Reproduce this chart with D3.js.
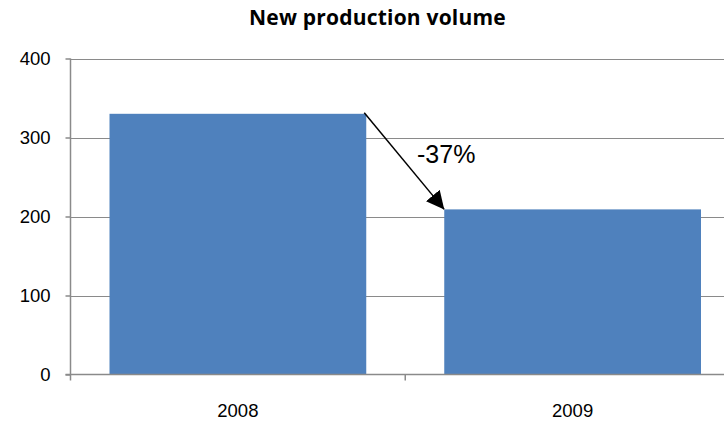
<!DOCTYPE html>
<html>
<head>
<meta charset="utf-8">
<script src="https://cdn.jsdelivr.net/npm/d3@7/dist/d3.min.js"></script>
<style>
  html, body { margin: 0; padding: 0; background: #fff; }
  svg { display: block; }
</style>
</head>
<body>
<svg id="chart" width="724" height="422"></svg>
<script>
// Chart data
const categories = ["2008", "2009"];
const values = [330, 209];
const yTicks = [0, 100, 200, 300, 400];
const changeLabel = "-37%";
const title = "New production volume";

const svg = d3.select("#chart");
const margin = { left: 70.5, right: -16, top: 58.5, bottom: 47.5 };
const W = 724, H = 422;

const x = d3.scaleBand()
  .domain(categories)
  .range([margin.left, W - margin.right])
  .paddingInner(0.233)
  .paddingOuter(0.1165);

const y = d3.scaleLinear()
  .domain([0, 400])
  .range([H - margin.bottom, margin.top]);

const gridColor = "#8a8a8a";
const font = "'Liberation Sans', Arial, sans-serif";

// Horizontal gridlines
svg.append("g")
  .selectAll("line")
  .data(yTicks.filter(d => d > 0))
  .join("line")
  .attr("x1", margin.left)
  .attr("x2", W)
  .attr("y1", d => Math.round(y(d)) + 0.5)
  .attr("y2", d => Math.round(y(d)) + 0.5)
  .attr("stroke", gridColor)
  .attr("stroke-width", 1);

// Bars
svg.append("g")
  .selectAll("rect")
  .data(categories.map((c, i) => ({ c, v: values[i] })))
  .join("rect")
  .attr("x", d => x(d.c))
  .attr("width", x.bandwidth())
  .attr("y", d => y(d.v))
  .attr("height", d => y(0) - y(d.v))
  .attr("fill", "#4f81bd");

// Y axis
const yAxis = svg.append("g")
  .attr("transform", `translate(${margin.left},0)`)
  .call(d3.axisLeft(y).tickValues(yTicks).tickSize(5).tickPadding(15));
yAxis.selectAll("path, line").attr("stroke", gridColor).attr("stroke-width", 1.5);
yAxis.select(".domain").attr("d", `M0,${y(0)}V${y(400)}`);
yAxis.selectAll("text")
  .attr("font-family", font)
  .attr("font-size", 18.5)
  .attr("fill", "#000");

// X axis with ticks at category boundaries
const xAxisG = svg.append("g")
  .attr("transform", `translate(0,${y(0)})`);
xAxisG.append("line")
  .attr("x1", margin.left - 5).attr("x2", W)
  .attr("stroke", gridColor).attr("stroke-width", 1.5);
const boundaries = categories.map(c => x(c) - x.step() * x.paddingOuter());
xAxisG.selectAll(".tick")
  .data(boundaries)
  .join("line")
  .attr("x1", d => d).attr("x2", d => d)
  .attr("y1", 0).attr("y2", 6)
  .attr("stroke", gridColor).attr("stroke-width", 1.5);
xAxisG.selectAll(".cat")
  .data(categories)
  .join("text")
  .attr("x", d => x(d) + x.bandwidth() / 2)
  .attr("y", 42)
  .attr("text-anchor", "middle")
  .attr("font-family", font)
  .attr("font-size", 18.5)
  .attr("fill", "#000")
  .text(d => d);

// Title
svg.append("text")
  .attr("x", 377.5)
  .attr("y", 25)
  .attr("text-anchor", "middle")
  .attr("font-family", "'Open Sans', sans-serif")
  .attr("font-weight", "bold")
  .attr("font-size", 21)
  .attr("letter-spacing", 0.2)
  .attr("fill", "#000")
  .text(title);

// Change arrow from the 2008 bar top to the 2009 bar top
svg.append("defs").append("marker")
  .attr("id", "arrowhead")
  .attr("viewBox", "0 0 10 10")
  .attr("refX", 10).attr("refY", 5)
  .attr("markerWidth", 18).attr("markerHeight", 18)
  .attr("markerUnits", "userSpaceOnUse")
  .attr("orient", "auto")
  .append("path")
  .attr("d", "M0,0L10,5L0,10z")
  .attr("fill", "#000");

const x0 = x(categories[0]) + x.bandwidth() - 2;
const x1 = x(categories[1]);
svg.append("line")
  .attr("x1", x0).attr("y1", y(values[0]) - 1)
  .attr("x2", x1).attr("y2", y(values[1]))
  .attr("stroke", "#000")
  .attr("stroke-width", 1.5)
  .attr("marker-end", "url(#arrowhead)");

svg.append("text")
  .attr("x", 417)
  .attr("y", 163)
  .attr("font-family", font)
  .attr("font-size", 25)
  .attr("fill", "#000")
  .text(changeLabel);
</script>
</body>
</html>
